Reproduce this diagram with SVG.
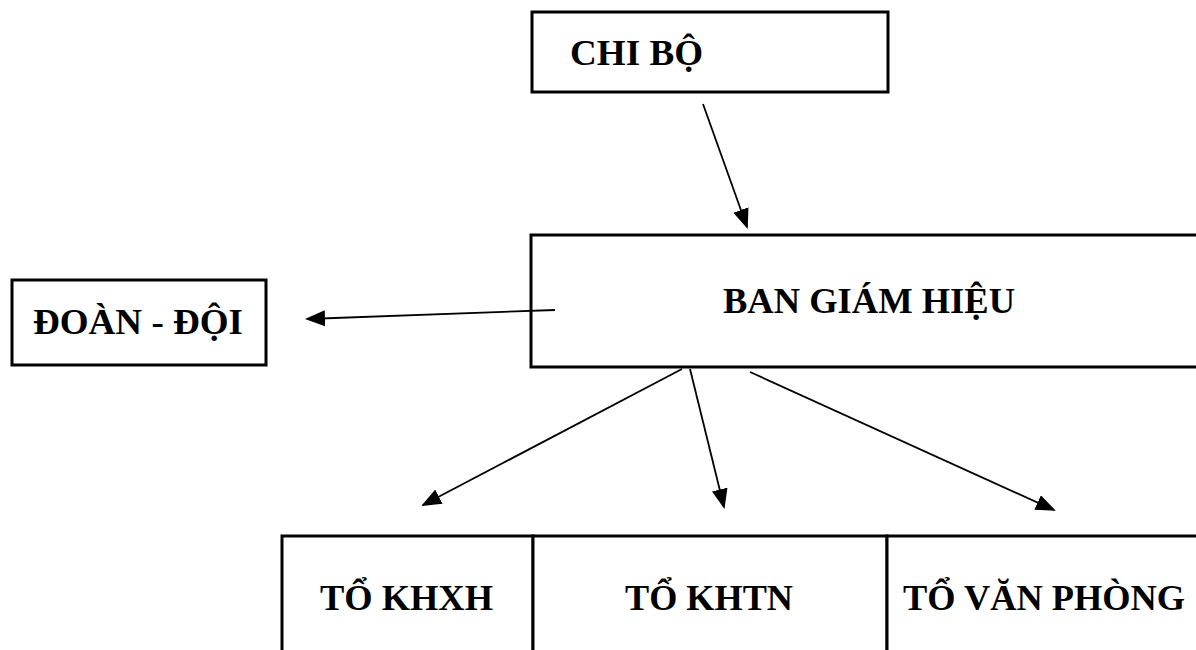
<svg xmlns="http://www.w3.org/2000/svg" width="1196" height="650" viewBox="0 0 1196 650">
  <style>
    .box { fill: #ffffff; stroke: #000000; stroke-width: 3; }
    .label { font-family: "Liberation Serif", "Times New Roman", serif; font-weight: bold; font-size: 36px; fill: #000000; }
    .link { stroke: #000000; stroke-width: 1.8; fill: none; marker-end: url(#arrow); }
  </style>
  <defs>
    <marker id="arrow" markerUnits="userSpaceOnUse" markerWidth="20" markerHeight="16" viewBox="0 0 20 16" refX="18" refY="8" orient="auto">
      <path d="M0,0 L20,8 L0,16 Z" fill="#000000"/>
    </marker>
  </defs>
  <rect width="1196" height="650" fill="#ffffff"/>

  <g id="chi-bo">
    <rect class="box" x="532" y="12" width="356" height="80"/>
    <text class="label" x="570" y="65" textLength="133" lengthAdjust="spacingAndGlyphs">CHI BỘ</text>
  </g>

  <g id="ban-giam-hieu">
    <rect class="box" x="531" y="235" width="680" height="132"/>
    <text class="label" x="723" y="313" font-size="37" textLength="292" lengthAdjust="spacingAndGlyphs">BAN GIÁM HIỆU</text>
  </g>

  <g id="doan-doi">
    <rect class="box" x="12" y="280" width="254" height="85"/>
    <text class="label" x="33" y="334" textLength="210" lengthAdjust="spacingAndGlyphs">ĐOÀN - ĐỘI</text>
  </g>

  <g id="to-khxh">
    <rect class="box" x="282" y="536" width="251" height="130"/>
    <text class="label" x="320" y="610" textLength="173" lengthAdjust="spacingAndGlyphs">TỔ KHXH</text>
  </g>

  <g id="to-khtn">
    <rect class="box" x="533" y="536" width="354" height="130"/>
    <text class="label" x="625" y="610" textLength="168" lengthAdjust="spacingAndGlyphs">TỔ KHTN</text>
  </g>

  <g id="to-van-phong">
    <rect class="box" x="887" y="536" width="320" height="130"/>
    <text class="label" x="903" y="610" textLength="282" lengthAdjust="spacingAndGlyphs">TỔ VĂN PHÒNG</text>
  </g>

  <g id="connectors">
    <line class="link" x1="703" y1="104" x2="747" y2="227"/>
    <line class="link" x1="555" y1="310" x2="307" y2="319"/>
    <line class="link" x1="682" y1="369" x2="423" y2="505"/>
    <line class="link" x1="690" y1="369" x2="724" y2="507"/>
    <line class="link" x1="750" y1="372" x2="1054" y2="510"/>
  </g>
</svg>
